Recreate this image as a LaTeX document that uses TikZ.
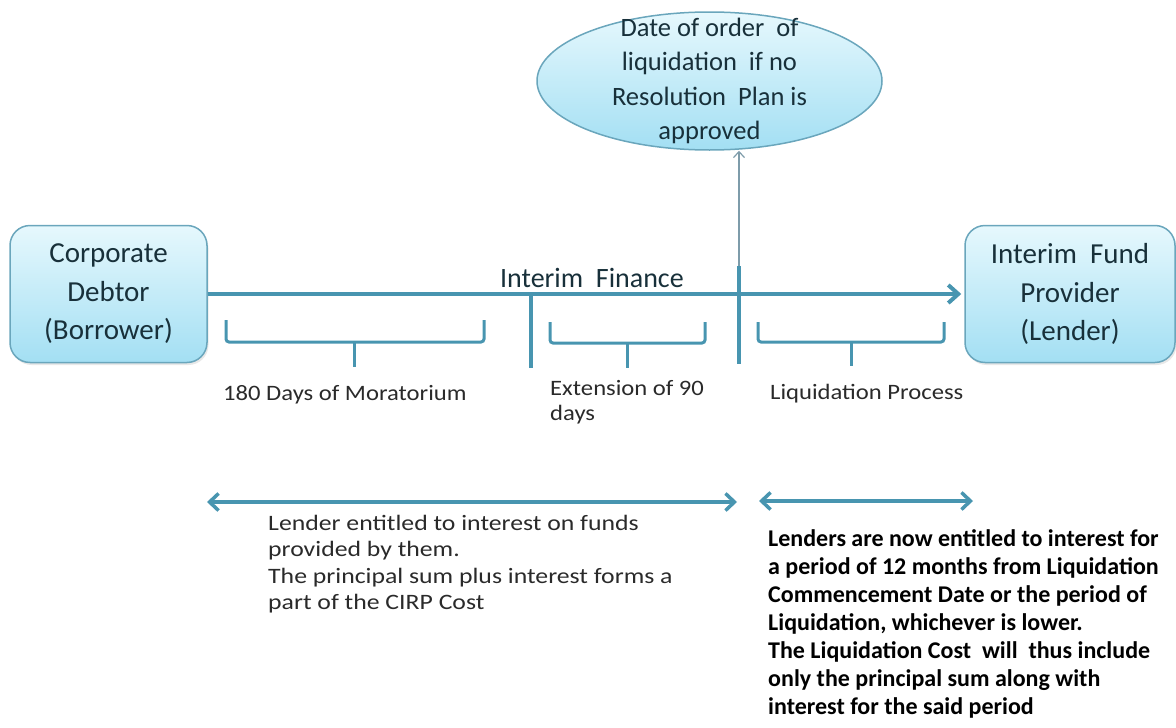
\documentclass[tikz,border=0pt]{standalone}
\usepackage{fontspec}
\setmainfont{Carlito}
\newfontfamily\widefont[FakeStretch=1.12]{Carlito}
\newfontfamily\widerfont[FakeStretch=1.17]{Carlito}
\usetikzlibrary{arrows.meta,shapes.geometric,shadows}
\definecolor{boxT}{HTML}{E6F8FD}
\definecolor{boxB}{HTML}{A3DFF3}
\definecolor{boxline}{HTML}{6AA6BC}
\definecolor{arrowc}{HTML}{4895B0}
\definecolor{thinc}{HTML}{7E9CAA}
\definecolor{txt}{HTML}{18303A}
\definecolor{lbltxt}{HTML}{2A2A2A}
\begin{document}
\begin{tikzpicture}[x=1pt,y=-1pt,
  bluebox/.style={draw=boxline, line width=1.5pt, rounded corners=20pt, top color=boxT, bottom color=boxB,
    align=center, text=txt, font=\fontsize{29}{38.5}\selectfont, inner sep=0pt,
    drop shadow={opacity=0.18, shadow xshift=1.5pt, shadow yshift=-2.5pt}},
  bubble/.style={ellipse, draw=boxline, line width=1.5pt, top color=boxT, bottom color=boxB,
    inner sep=0pt, minimum width=345pt, minimum height=138pt},
  bubbletext/.style={align=center, text=txt, font=\fontsize{26.5}{34.3}\selectfont, inner sep=0pt},
  mainline/.style={draw=arrowc, line width=4pt},
  bracketline/.style={draw=arrowc, line width=3pt, rounded corners=3pt},
  tickline/.style={draw=arrowc, line width=4.5pt},
  thinline/.style={draw=thinc, line width=1.2pt},
  dbl/.style={draw=arrowc, line width=3.5pt,
    {Straight Barb[length=9pt,width=17pt]}-{Straight Barb[length=9pt,width=17pt]}},
  lbl/.style={text=lbltxt, font=\widefont\fontsize{22}{25.5}\selectfont, align=left, inner sep=0pt},
]
\useasboundingbox (0,0) rectangle (1176,728);

% main boxes
\node[bluebox, minimum width=197pt, minimum height=137pt] (debtor) at (108.5,294)
  {Corporate\\Debtor\\(Borrower)};
\node[bluebox, minimum width=210pt, minimum height=137pt] (lender) at (1070,294)
  {Interim\ \ Fund\\Provider\\(Lender)};

% ellipse
\node[bubble] (liq) at (709.5,81) {};
\node[bubbletext] (liqtext) at (liq.center)
  {Date of order\ \ of\\liquidation\ \ if no\\Resolution\ \ Plan is\\approved};

% main arrow
\draw[mainline, -{Straight Barb[length=10pt,width=18pt]}, shorten >=3pt] (debtor.east) -- (lender.west);
\node[text=txt, font=\fontsize{28}{32}\selectfont, inner sep=0pt] (finlabel) at (592,278) {Interim\ \ Finance};

% ticks
\coordinate (t1top) at (531,296);
\coordinate (t1bot) at (531,368);
\coordinate (t2top) at (739,266);
\coordinate (t2bot) at (739,364);
\draw[tickline] (t1top) -- (t1bot);
\draw[tickline] (t2top) -- (t2bot);
\draw[thinline, -{Straight Barb[length=6pt,width=11pt]}] (t2top) -- (t2top |- liq.south);

% brackets
\coordinate (b1l) at (226,320); \coordinate (b1r) at (484,320);
\coordinate (b1m) at (354,342); \coordinate (b1s) at (354,367);
\draw[bracketline] (b1l) |- (b1m) -| (b1r);
\draw[bracketline] (b1m) -- (b1s);

\coordinate (b2l) at (550,322); \coordinate (b2r) at (705,322);
\coordinate (b2m) at (627,343); \coordinate (b2s) at (627,368);
\draw[bracketline] (b2l) |- (b2m) -| (b2r);
\draw[bracketline] (b2m) -- (b2s);

\coordinate (b3l) at (758,322); \coordinate (b3r) at (944,322);
\coordinate (b3m) at (851,342); \coordinate (b3s) at (851,366);
\draw[bracketline] (b3l) |- (b3m) -| (b3r);
\draw[bracketline] (b3m) -- (b3s);

% labels
\node[lbl, anchor=base west] (mor) at (223,400) {180 Days of Moratorium};
\node[lbl, anchor=north west] (ext) at (550,380) {Extension of 90\\days};
\node[lbl, anchor=base west] (lproc) at (770,399) {Liquidation Process};

% double arrows
\coordinate (d1l) at (207,502); \coordinate (d1r) at (737,502);
\coordinate (d2l) at (759,501); \coordinate (d2r) at (973,501);
\draw[dbl] (d1l) -- (d1r);
\draw[dbl] (d2l) -- (d2r);

% text blocks
\node[lbl, font=\widerfont\fontsize{22}{26.4}\selectfont, anchor=north west] (cirp) at (268,515)
  {Lender entitled to interest on funds\\provided by them.\\The principal sum plus interest forms a\\part of the CIRP Cost};
\node[text=black, font=\bfseries\fontsize{24}{28}\selectfont, align=left, inner sep=0pt, anchor=north west] (lcost) at (768,529)
  {Lenders are now entitled to interest for\\a period of 12 months from Liquidation\\Commencement Date or the period of\\Liquidation, whichever is lower.\\The Liquidation Cost\ \ will\ \ thus include\\only the principal sum along with\\interest for the said period};
\end{tikzpicture}
\end{document}
